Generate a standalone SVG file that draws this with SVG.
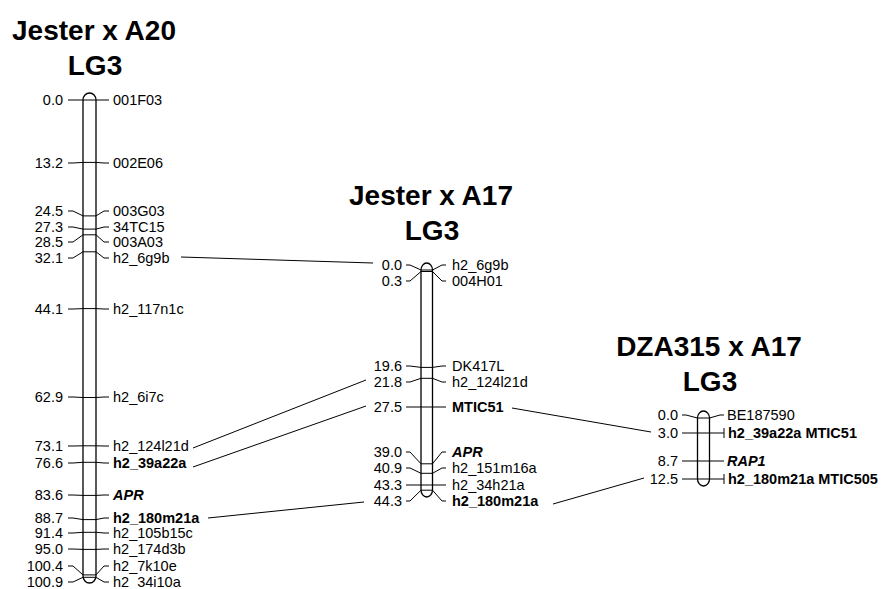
<svg xmlns="http://www.w3.org/2000/svg" width="883" height="589" viewBox="0 0 883 589">
<style>
text{font-family:"Liberation Sans",Arial,sans-serif;fill:#000}
.t{font-size:28px;font-weight:bold;text-anchor:middle}
.n{font-size:14.5px;text-anchor:end}
.m{font-size:14.5px}
.b{font-weight:bold}
.i{font-weight:bold;font-style:italic}
.chr{fill:#fff;stroke:#000;stroke-width:1.3}
.tk{fill:none;stroke:#000;stroke-width:1}
.cn{fill:none;stroke:#000;stroke-width:1}
</style>
<rect width="883" height="589" fill="#fff"/>

<g id="map-left">
<text class="t" x="94" y="40">Jester x A20</text>
<text class="t" x="95" y="75">LG3</text>
<rect class="chr" x="83" y="93" width="13" height="490" rx="6.5" ry="7"/>
<path class="tk" d="M68,100H109 M68,163L73,163L83,162.4H96L104,163H109 M68,211H73L83,215.9H96L104,211H109 M68,227H73L83,229.1H96L104,227H109 M68,242H73L83,234.8H96L104,242H109 M68,258H73L83,251.8H96L104,258H109 M68,309H73L83,308.6H96L104,309H109 M68,397H73L83,397.5H96L104,397H109 M68,446H73L83,445.8H96L104,446H109 M68,463H73L83,462.3H96L104,463H109 M68,495H73L83,495.4H96L104,495H109 M68,518H73L83,519.6H96L104,518H109 M68,533H73L83,532.3H96L104,533H109 M68,549H73L83,549.4H96L104,549H109 M68,566H73L83,574.9H96L104,566H109 M68,582H73L83,577.3H96L104,582H109"/>
<text class="n" x="63" y="105">0.0</text><text class="m" x="113" y="105">001F03</text>
<text class="n" x="63" y="168">13.2</text><text class="m" x="113" y="168">002E06</text>
<text class="n" x="63" y="216">24.5</text><text class="m" x="113" y="216">003G03</text>
<text class="n" x="63" y="232">27.3</text><text class="m" x="113" y="232">34TC15</text>
<text class="n" x="63" y="247">28.5</text><text class="m" x="113" y="247">003A03</text>
<text class="n" x="63" y="263">32.1</text><text class="m" x="113" y="263">h2_6g9b</text>
<text class="n" x="63" y="314">44.1</text><text class="m" x="113" y="314">h2_117n1c</text>
<text class="n" x="63" y="402">62.9</text><text class="m" x="113" y="402">h2_6i7c</text>
<text class="n" x="63" y="451">73.1</text><text class="m" x="113" y="451">h2_124l21d</text>
<text class="n" x="63" y="468">76.6</text><text class="m b" x="113" y="468">h2_39a22a</text>
<text class="n" x="63" y="500">83.6</text><text class="m i" x="113" y="500">APR</text>
<text class="n" x="63" y="523">88.7</text><text class="m b" x="113" y="523">h2_180m21a</text>
<text class="n" x="63" y="538">91.4</text><text class="m" x="113" y="538">h2_105b15c</text>
<text class="n" x="63" y="554">95.0</text><text class="m" x="113" y="554">h2_174d3b</text>
<text class="n" x="63" y="571">100.4</text><text class="m" x="113" y="571">h2_7k10e</text>
<text class="n" x="63" y="587">100.9</text><text class="m" x="113" y="587">h2_34i10a</text>
</g>

<g id="map-middle">
<text class="t" x="431" y="205">Jester x A17</text>
<text class="t" x="432" y="240">LG3</text>
<rect class="chr" x="421" y="263" width="11.5" height="234" rx="5.75" ry="7"/>
<path class="tk" d="M406,265H410L421,270H432.5L442,265H446 M406,281H410L421,271.5H432.5L442,281H446 M406,366H410L421,367.4H432.5L442,366H446 M406,382H410L421,378.3H432.5L442,382H446 M406,407H446 M406,452H410L421,463.8H432.5L442,452H446 M406,468H410L421,473.3H432.5L442,468H446 M406,485H446 M406,501H410L421,490.2H432.5L442,501H446"/>
<text class="n" x="402" y="270">0.0</text><text class="m" x="452" y="270">h2_6g9b</text>
<text class="n" x="402" y="286">0.3</text><text class="m" x="452" y="286">004H01</text>
<text class="n" x="402" y="371">19.6</text><text class="m" x="452" y="371">DK417L</text>
<text class="n" x="402" y="387">21.8</text><text class="m" x="452" y="387">h2_124l21d</text>
<text class="n" x="402" y="412">27.5</text><text class="m b" x="452" y="412">MTIC51</text>
<text class="n" x="402" y="457">39.0</text><text class="m i" x="452" y="457">APR</text>
<text class="n" x="402" y="473">40.9</text><text class="m" x="452" y="473">h2_151m16a</text>
<text class="n" x="402" y="490">43.3</text><text class="m" x="452" y="490">h2_34h21a</text>
<text class="n" x="402" y="506">44.3</text><text class="m b" x="452" y="506">h2_180m21a</text>
</g>

<g id="map-right">
<text class="t" x="709" y="356">DZA315 x A17</text>
<text class="t" x="710" y="391">LG3</text>
<rect class="chr" x="697.5" y="411" width="12" height="75" rx="6" ry="7"/>
<path class="tk" d="M682,415H686L697.5,418H709.5L720,415H724 M682,433H724 M724,428V438 M682,461H724 M682,479H724 M724,474V484"/>
<text class="n" x="678" y="420">0.0</text><text class="m" x="727" y="420">BE187590</text>
<text class="n" x="678" y="438">3.0</text><text class="m b" x="728" y="438">h2_39a22a MTIC51</text>
<text class="n" x="678" y="466">8.7</text><text class="m i" x="727" y="466">RAP1</text>
<text class="n" x="678" y="484">12.5</text><text class="m b" x="728" y="484">h2_180m21a MTIC505</text>
</g>

<g id="connectors">
<line class="cn" x1="181" y1="257" x2="373" y2="263"/>
<line class="cn" x1="193" y1="448" x2="366" y2="380"/>
<line class="cn" x1="193" y1="467" x2="366" y2="406"/>
<line class="cn" x1="208" y1="518" x2="364" y2="502"/>
<line class="cn" x1="512" y1="408" x2="651" y2="432"/>
<line class="cn" x1="553" y1="504" x2="644" y2="478"/>
</g>
</svg>
